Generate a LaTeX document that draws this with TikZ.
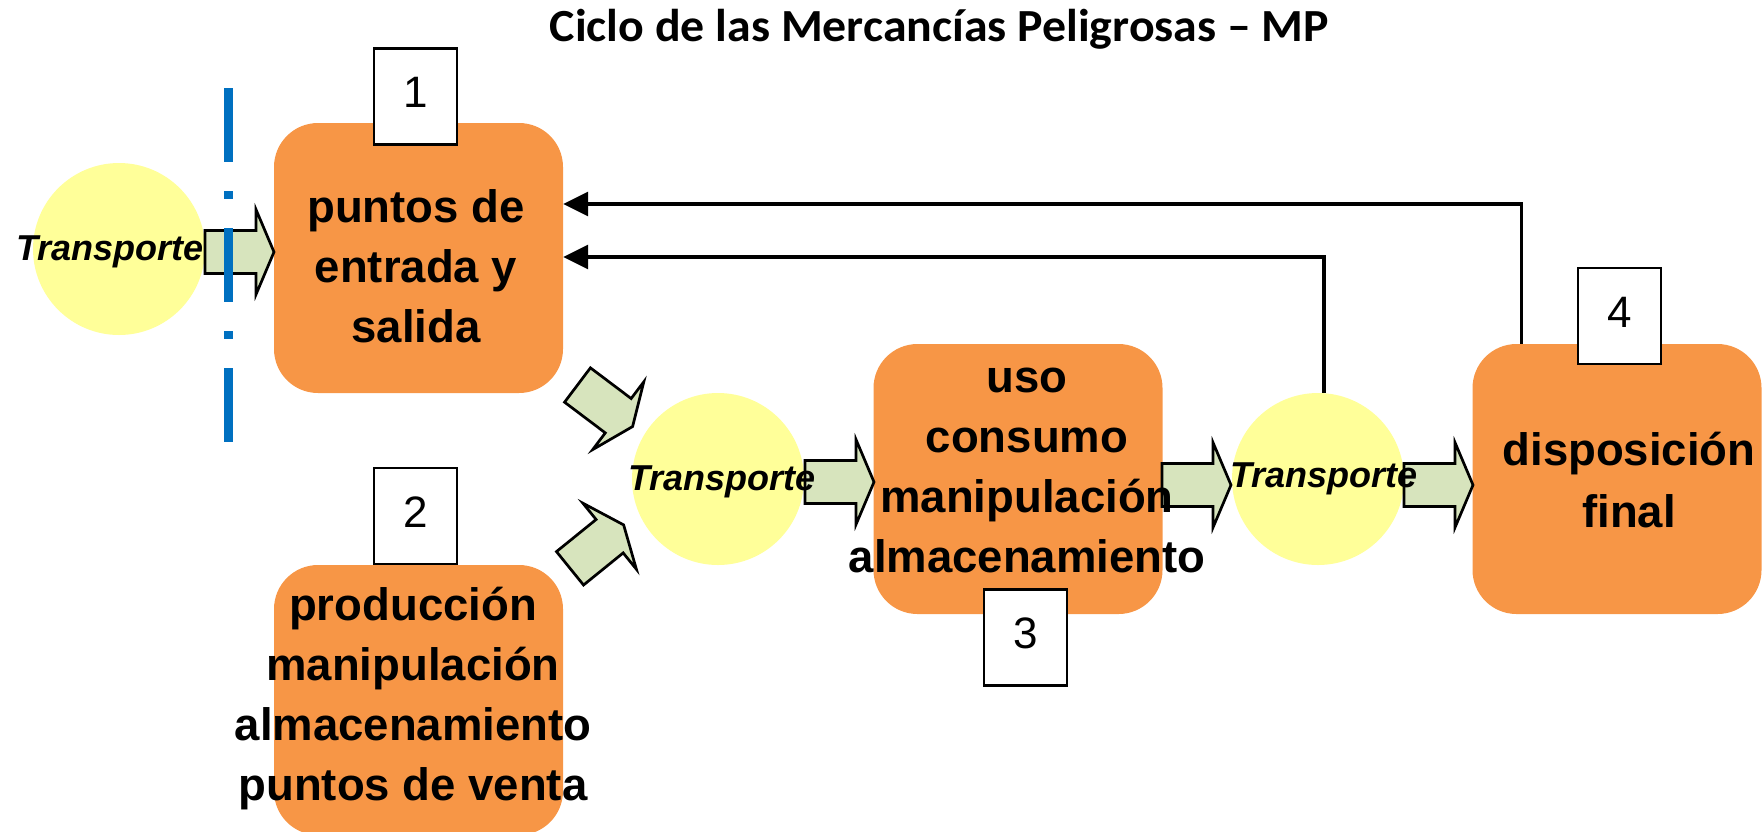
\documentclass[tikz,border=0pt]{standalone}
\usepackage{fontspec}
\setmainfont{Liberation Sans}
\newfontfamily\titlefont[FakeStretch=1.04]{Carlito}
\usetikzlibrary{arrows.meta}
\definecolor{boxorange}{HTML}{F79646}
\definecolor{circyellow}{HTML}{FFFF99}
\definecolor{arrgreen}{HTML}{D7E4BD}
\definecolor{borderblue}{HTML}{0070C0}
\tikzset{
  procbox/.style={rectangle, rounded corners=44pt, fill=boxorange, draw=none,
    minimum width=289pt, minimum height=270pt, inner sep=0pt},
  numbox/.style={rectangle, draw=black, fill=white, line width=2.7pt,
    minimum width=83pt, minimum height=96pt, inner sep=0pt,
    font=\fontsize{44}{50}\selectfont, text height=31.5pt, text depth=9pt},
  transcircle/.style={circle, fill=circyellow, draw=none, minimum size=172pt, inner sep=0pt},
  blockarr/.style={fill=arrgreen, draw=black, line width=2.7pt, line join=miter},
  feedback/.style={draw=black, line width=3.3pt, -{Triangle[length=25pt,width=24pt]}},
  boxtext/.style={anchor=north, align=center, inner sep=0pt,
    font=\bfseries\fontsize{45.5}{60}\selectfont},
  transtext/.style={anchor=base, inner sep=0pt,
    font=\bfseries\itshape\fontsize{36}{40}\selectfont},
}
\newcommand{\drawblockarrow}[2]{%
  \draw[blockarr, shift={#1}, rotate=#2] (0,-21.5) -- (51,-21.5) -- (51,-42.5)
    -- (69,0) -- (51,42.5) -- (51,21.5) -- (0,21.5) -- cycle;}
\begin{document}
\begin{tikzpicture}[x=1pt,y=-1pt]
\useasboundingbox (0,0) rectangle (1763,831);
% process boxes
\node[procbox] (b1) at (418.5,258) {};
\node[procbox] (b2) at (418.5,700) {};
\node[procbox] (b3) at (1018,479) {};
\node[procbox] (b4) at (1617,479) {};
% number boxes
\node[numbox] (n1) at (415.5,96.5) {1};
\node[numbox] (n2) at (415.5,516) {2};
\node[numbox] (n3) at (1025.5,637.5) {3};
\node[numbox] (n4) at (1619.5,316) {4};
% transport circles
\node[transcircle] (c1) at (119,249) {};
\node[transcircle] (c2) at (718,479) {};
\node[transcircle] (c3) at (1318,479) {};
% block arrows
\drawblockarrow{(205,252)}{0}
\drawblockarrow{(577.5,385)}{-37}
\drawblockarrow{(570,568.3)}{39}
\drawblockarrow{(805,482)}{0}
\drawblockarrow{(1162,485)}{0}
\drawblockarrow{(1404,485)}{0}
% border line
\coordinate (bt) at (228,88);
\coordinate (bb) at (228,442);
\draw[borderblue, line width=9pt, dash pattern=on 74pt off 29pt on 8pt off 29pt] (bt) -- (bb);
% feedback connectors
\draw[feedback] ([xshift=49pt]b4.north west) |- ([yshift=54pt]b1.east);
\draw[feedback] ([xshift=6pt]c3.north) |- ([yshift=1pt]b1.east);
% texts
\node[boxtext] (t1) at (416,182) {\rule{0pt}{40pt}puntos de\\entrada y\\salida};
\node[boxtext] (t2) at (413,580) {\rule{0pt}{40pt}producción\\manipulación\\almacenamiento\\puntos de venta};
\node[boxtext] (t3) at (1027,352) {\rule{0pt}{40pt}uso\\consumo\\manipulación\\almacenamiento};
\node[boxtext, font=\bfseries\fontsize{45.5}{62}\selectfont] (t4) at (1629,425) {\rule{0pt}{40pt}disposición\\final};
\node[transtext] (tr1) at (110,260) {Transporte};
\node[transtext] (tr2) at (722,490) {Transporte};
\node[transtext] (tr3) at (1324,487) {Transporte};
\node[anchor=base, inner sep=0pt, font=\titlefont\bfseries\fontsize{46}{50}\selectfont] (title) at (939.5,41.7) {Ciclo de las Mercancías Peligrosas – MP};
\end{tikzpicture}
\end{document}
